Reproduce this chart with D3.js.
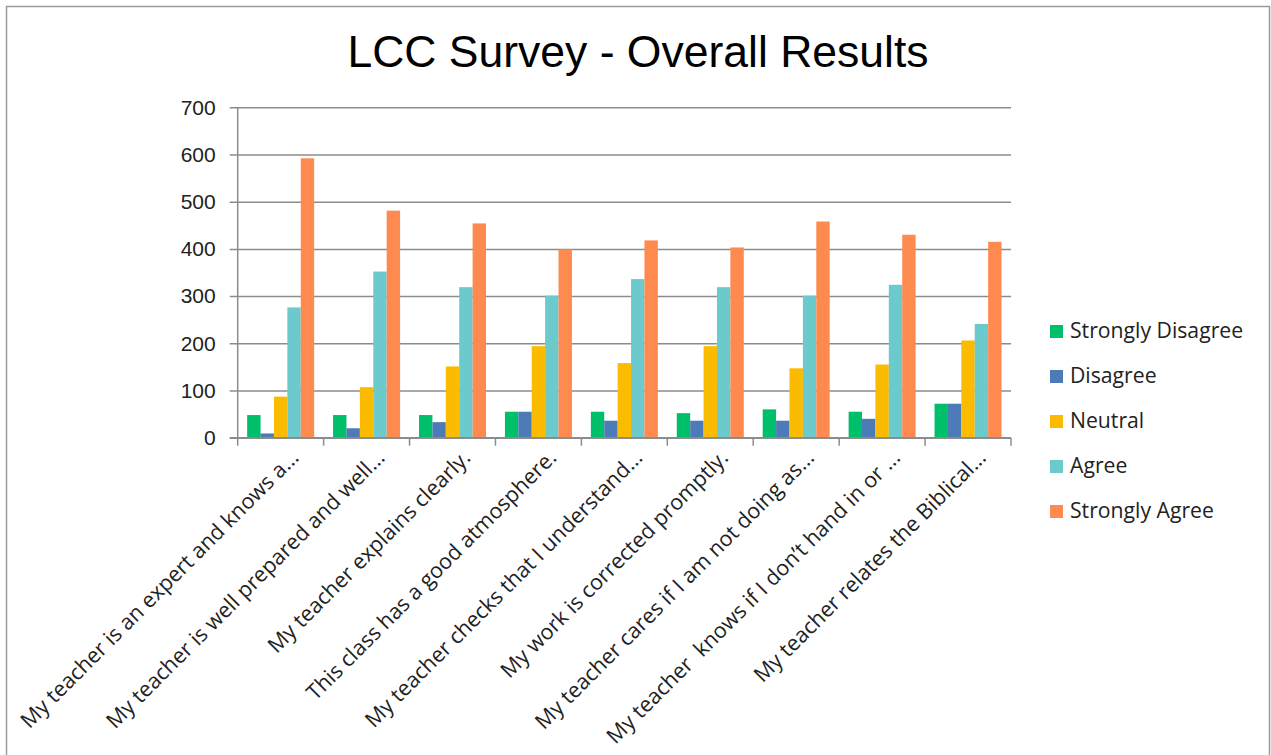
<!DOCTYPE html>
<html><head><meta charset="utf-8">
<script src="https://cdn.jsdelivr.net/npm/d3@7"></script>
<style>body{margin:0;background:#fff}svg{display:block}</style>
</head><body>
<svg id="c" width="1271" height="755"></svg>
<script>
const categories = [
  "My teacher is an expert and knows a...",
  "My teacher is well prepared and well...",
  "My teacher explains clearly.",
  "This class has a good atmosphere.",
  "My teacher checks that I understand...",
  "My work is corrected promptly.",
  "My teacher cares if I am not doing as...",
  "My teacher  knows if I don\u2019t hand in or ...",
  "My teacher relates the Biblical..."
];
const seriesNames = ["Strongly Disagree","Disagree","Neutral","Agree","Strongly Agree"];
const stronglyDisagree = [48,48,48,55,55,52,60,55,72];
const disagree         = [9,20,33,55,36,36,36,40,72];
const neutral          = [87,107,151,194,158,194,147,155,206];
const agree            = [276,352,319,301,336,319,301,324,241];
const stronglyAgree    = [592,481,454,399,418,403,458,430,415];
const seriesValues = [stronglyDisagree, disagree, neutral, agree, stronglyAgree];
const yTicks = [0,100,200,300,400,500,600,700];
const colors = ["#00BF6B","#4D7BB7","#FABB00","#6CC9CC","#FF8A4F"];

const svg = d3.select("#c");
// chart frame
svg.append("rect").attr("x",6.5).attr("y",6.5).attr("width",1263).attr("height",760)
  .attr("fill","none").attr("stroke","#9a9a9a").attr("stroke-width",1.5);

const L = 237.7, R = 1011, T = 107.3, B = 437.7;
const x = d3.scaleBand().domain(categories).range([L,R]).padding(0);
const gap = (x.bandwidth() - 5*13.4)/2;
const xs = d3.scaleBand().domain(seriesNames).range([gap, x.bandwidth()-gap]).padding(0);
const y = d3.scaleLinear().domain([0,700]).range([B,T]);

// title
svg.append("text").attr("x",638).attr("y",67).attr("text-anchor","middle")
  .attr("font-family","Liberation Sans, Arial, sans-serif").attr("font-size",44.5).attr("fill","#000")
  .text("LCC Survey - Overall Results");

// gridlines + y axis
const yAxis = d3.axisLeft(y).tickValues(yTicks).tickSize(-(R-L)).tickSizeOuter(0).tickPadding(22).tickFormat(d3.format("d"));
const gy = svg.append("g").attr("transform",`translate(${L},0)`).call(yAxis);
gy.select(".domain").remove();
gy.selectAll(".tick line").attr("x1",-8).attr("stroke","#8c8c8c").attr("stroke-width",1.5);
gy.selectAll(".tick text").attr("font-family","Liberation Sans, Arial, sans-serif").attr("font-size",21).attr("fill","#222");
// vertical axis line
svg.append("line").attr("x1",L).attr("x2",L).attr("y1",T).attr("y2",B).attr("stroke","#8c8c8c").attr("stroke-width",1.5);

// bars
const groups = svg.append("g").selectAll("g").data(categories).join("g")
  .attr("transform",d=>`translate(${x(d)},0)`);
groups.selectAll("rect").data((d,i)=>seriesNames.map((s,j)=>({s,j,v:seriesValues[j][i]})))
  .join("rect")
  .attr("x",d=>xs(d.s)).attr("width",xs.bandwidth())
  .attr("y",d=>y(d.v)).attr("height",d=>B-y(d.v))
  .attr("fill",d=>colors[d.j]);

// x axis with boundary ticks
const gx = svg.append("g").attr("transform",`translate(0,${B})`);
gx.append("line").attr("x1",L-8).attr("x2",R).attr("stroke","#8c8c8c").attr("stroke-width",1.5);
const bounds = categories.map(c=>x(c)).concat([R]);
gx.selectAll("line.t").data(bounds).join("line").attr("class","t")
  .attr("x1",d=>d).attr("x2",d=>d).attr("y1",0).attr("y2",8).attr("stroke","#8c8c8c").attr("stroke-width",1.5);
gx.selectAll("text").data(categories).join("text")
  .attr("transform",d=>`translate(${x(d)+x.bandwidth()/2+14},${16}) rotate(-45)`)
  .attr("text-anchor","end").attr("dy","0.35em").style("white-space","pre")
  .attr("font-family","Open Sans, sans-serif").attr("font-size",21.5).attr("fill","#222")
  .text(d=>d);

// legend
const lg = svg.append("g").selectAll("g").data(seriesNames).join("g")
  .attr("transform",(d,i)=>`translate(1050,${331 + i*45})`);
lg.append("rect").attr("x",0).attr("y",-6).attr("width",13).attr("height",13).attr("fill",(d,i)=>colors[i]);
lg.append("text").attr("x",20).attr("y",0).attr("dy","0.35em")
  .attr("font-family","Open Sans, sans-serif").attr("font-size",21.2).attr("fill","#222").text(d=>d);
</script>
</body></html>
